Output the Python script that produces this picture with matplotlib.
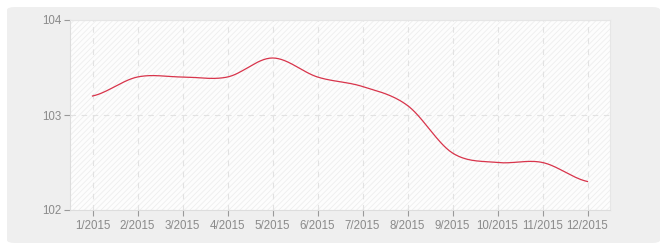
import numpy as np
import matplotlib
matplotlib.use("Agg")
import matplotlib.pyplot as plt
from matplotlib.patches import FancyBboxPatch

months = ["1/2015", "2/2015", "3/2015", "4/2015", "5/2015", "6/2015",
          "7/2015", "8/2015", "9/2015", "10/2015", "11/2015", "12/2015"]
values = [103.2, 103.4, 103.4, 103.4, 103.6, 103.4,
          103.3, 103.1, 102.6, 102.5, 102.5, 102.3]
y_ticks = [102, 103, 104]


def catmull_rom(x, y, n=30):
    x = np.asarray(x, float)
    y = np.asarray(y, float)
    px = np.concatenate([[2 * x[0] - x[1]], x, [2 * x[-1] - x[-2]]])
    py = np.concatenate([[y[0]], y, [y[-1]]])
    xs, ys = [], []
    for i in range(1, len(px) - 2):
        t = np.linspace(0, 1, n, endpoint=(i == len(px) - 3))
        for arr, out in ((px, xs), (py, ys)):
            p0, p1, p2, p3 = arr[i - 1], arr[i], arr[i + 1], arr[i + 2]
            out.append(0.5 * ((2 * p1) + (-p0 + p2) * t
                              + (2 * p0 - 5 * p1 + 4 * p2 - p3) * t ** 2
                              + (-p0 + 3 * p1 - 3 * p2 + p3) * t ** 3))
    return np.concatenate(xs), np.concatenate(ys)


plt.rcParams["font.family"] = ["Liberation Sans", "DejaVu Sans"]
plt.rcParams["hatch.color"] = "#eeeeee"
plt.rcParams["hatch.linewidth"] = 0.6

W, H = 670, 250
fig = plt.figure(figsize=(W / 100, H / 100), dpi=100)
fig.patch.set_facecolor("white")

box = FancyBboxPatch((7 / W, 7 / H), (660 - 7) / W, (243 - 7) / H,
                     boxstyle="round,pad=0,rounding_size=0.012",
                     transform=fig.transFigure, facecolor="#efefef",
                     edgecolor="none", zorder=-10)
fig.patches.append(box)

ax = fig.add_axes([70 / W, (H - 210) / H, (610 - 70) / W, (210 - 20) / H])
ax.set_zorder(5)
ax.set_facecolor("white")
ax.add_patch(plt.Rectangle((0, 0), 1, 1, transform=ax.transAxes,
                           facecolor="#fdfdfd", edgecolor="#eeeeee",
                           hatch="//////", linewidth=0, zorder=0))

x = np.arange(1, len(months) + 1)
sx, sy = catmull_rom(x, values)
ax.plot(sx, sy, color="#d8344b", linewidth=0.9, zorder=3)

ax.set_xlim(0.5, 12.5)
ax.set_ylim(102, 104)
ax.set_xticks(x)
ax.set_xticklabels(months)
ax.set_yticks(y_ticks)
ax.set_yticklabels([str(v) for v in y_ticks])

ax.grid(True, color="#e2e2e2", linestyle=(0, (5, 5)), linewidth=0.8, zorder=1)
ax.set_axisbelow(True)

for side in ("top", "right"):
    ax.spines[side].set_color("#e6e6e6")
    ax.spines[side].set_linewidth(0.8)
for side in ("left", "bottom"):
    ax.spines[side].set_color("#dddddd")
    ax.spines[side].set_linewidth(0.8)

ax.tick_params(axis="both", colors="#999999", labelcolor="#8a8a8a",
               labelsize=8.3, length=4, width=0.8, direction="out")
ax.tick_params(axis="x", pad=3)
ax.tick_params(axis="y", pad=2)

fig.savefig("out.png", dpi=100, facecolor="white")
